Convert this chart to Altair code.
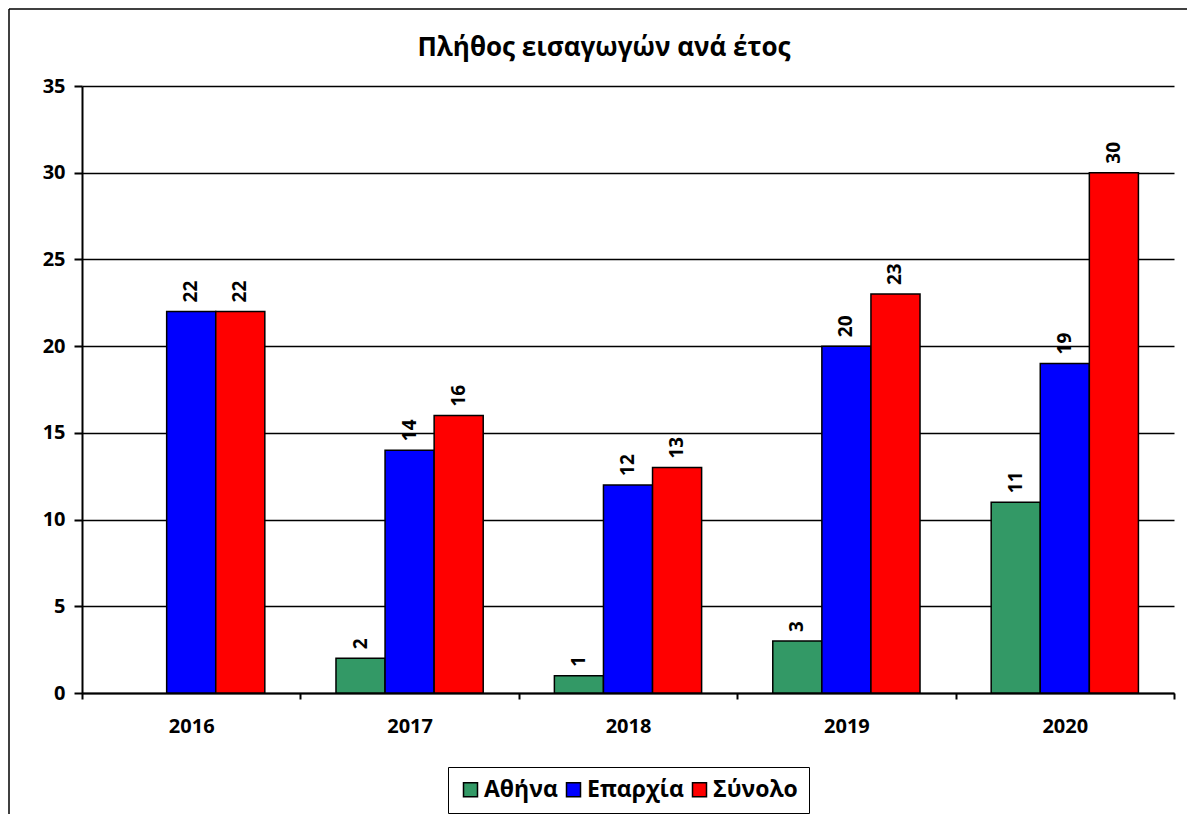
import altair as alt
import pandas as pd

years = ["2016", "2017", "2018", "2019", "2020"]
series = ["Αθήνα", "Επαρχία", "Σύνολο"]
athina = [0, 2, 1, 3, 11]
eparchia = [22, 14, 12, 20, 19]
synolo = [22, 16, 13, 23, 30]
colors = ["#339966", "#0000FF", "#FF0000"]
y_ticks = [0, 5, 10, 15, 20, 25, 30, 35]
title_text = "Πλήθος εισαγωγών ανά έτος"

rows = []
for i, y in enumerate(years):
    for s, vals in zip(series, [athina, eparchia, synolo]):
        rows.append({"year": y, "series": s, "value": vals[i]})
df = pd.DataFrame(rows)
df = df[df["value"] > 0]

FONT = "Open Sans"
W, H = 1092, 607

x_enc = alt.X("year:N", sort=years, title=None,
              scale=alt.Scale(paddingInner=0, paddingOuter=0),
              axis=alt.Axis(labelAngle=0, tickBand="extent", labelPadding=17,
                            labelFont=FONT, labelFontWeight="bold", labelFontSize=20,
                            labelColor="black", domainColor="black", domainWidth=2,
                            tickColor="black", tickWidth=2, tickSize=6, grid=False))
xo_enc = alt.XOffset("series:N", sort=series,
                     scale=alt.Scale(paddingOuter=0.725, paddingInner=0))
y_enc = alt.Y("value:Q", title=None,
              scale=alt.Scale(domain=[0, 35], nice=False),
              axis=alt.Axis(values=y_ticks, labelFont=FONT, labelFontWeight="bold",
                            labelFontSize=20, labelColor="black", labelPadding=9,
                            domainColor="black", domainWidth=2, tickColor="black",
                            tickWidth=2, tickSize=8, grid=True, gridColor="black",
                            gridWidth=1.5, gridOpacity=1))

base = alt.Chart(df)
bars = base.mark_bar(stroke="black", strokeWidth=1.5).encode(
    x=x_enc, xOffset=xo_enc, y=y_enc,
    color=alt.Color("series:N", sort=series,
                    scale=alt.Scale(domain=series, range=colors),
                    legend=alt.Legend(title=None, orient="none", legendX=366, legendY=681,
                                      direction="horizontal", columns=3,
                                      symbolType="square", symbolSize=196,
                                      symbolStrokeColor="black", symbolStrokeWidth=1.5,
                                      labelFont=FONT, labelFontWeight="bold",
                                      labelFontSize=23, labelColor="black",
                                      labelOffset=2, columnPadding=4, padding=11,
                                      strokeColor="black")),
)
labels = base.mark_text(angle=270, align="left", baseline="middle", dx=9,
                        font=FONT, fontWeight="bold", fontSize=19, color="black").encode(
    x=alt.X("year:N", sort=years), xOffset=alt.XOffset("series:N", sort=series),
    y="value:Q", text="value:Q")

frame_data = alt.Data(values=[{"k": 1}])
left_line = alt.Chart(frame_data).mark_rule(color="black", strokeWidth=1.5).encode(
    x=alt.value(-73), y=alt.value(-77), y2=alt.value(728))
top_line = alt.Chart(frame_data).mark_rule(color="black", strokeWidth=1.5).encode(
    y=alt.value(-77), x=alt.value(-73), x2=alt.value(1105))
title_mark = alt.Chart(alt.Data(values=[{"t": title_text}])).mark_text(
    font=FONT, fontSize=26, fontWeight="bold", color="black",
    align="center", baseline="alphabetic").encode(
    x=alt.value(W / 2 - 24), y=alt.value(-30), text="t:N")

chart = alt.layer(left_line, top_line, title_mark, bars, labels).properties(
    width=W, height=H, padding=0,
).configure_view(stroke=None)

chart.save("out.html", embed_options={"renderer": "svg", "actions": False})
